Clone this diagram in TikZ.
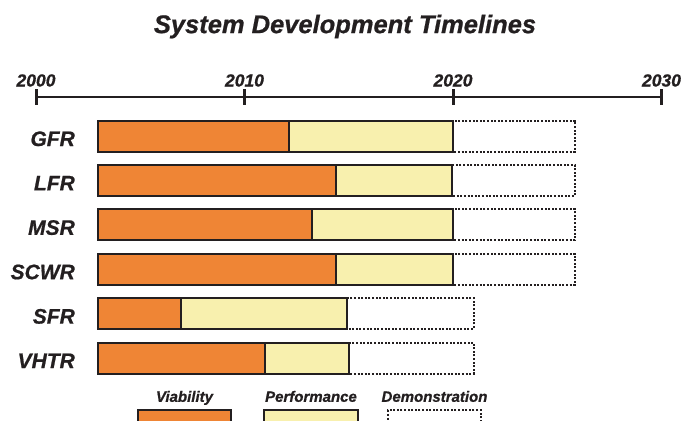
\documentclass[tikz,border=0pt]{standalone}
\usepackage{fontspec}
\setmainfont{Liberation Sans}[BoldItalicFeatures={FakeBold=0.8}]
\usepackage{xcolor}
\usetikzlibrary{positioning}
\definecolor{viab}{HTML}{EF8535}
\definecolor{perf}{HTML}{F8F0AE}
\definecolor{edge}{HTML}{231F20}

\begin{document}
\begin{tikzpicture}[
    x=1pt, y=-1pt, lbl/.style={text=edge, inner sep=0pt}, bar/.style={draw=edge, line width=2pt}, demo/.style={draw=edge, line width=2pt, dash pattern=on 2pt off 1.6pt}
]
\useasboundingbox (0,0) rectangle (684,420);
\clip (0,0) rectangle (684,420);
\node[lbl, font=\fontsize{25.5}{30}\selectfont\bfseries\itshape] (title) at (345,26.5) {System Development Timelines};
\coordinate (a0) at (36,97.3);\coordinate (a1) at (661.5,97.3);
\draw[edge, line width=2pt] (a0) -- (a1);
\foreach \t [count=\k from 0] in {2000,2010,2020,2030} {\draw[edge, line width=3pt] (36+208.5*\k,89) -- (36+208.5*\k,105);
\node[lbl, font=\fontsize{17.5}{20}\selectfont\bfseries\itshape, anchor=base] (y\t) at (36+208.5*\k,86.5) {\t};}
\foreach \n/\o/\p/\d [count=\i from 0] in {GFR/12.13/20/25.85, LFR/14.38/19.94/25.85, MSR/13.25/20/25.85, SCWR/14.38/20/25.85, SFR/6.95/14.93/20.99, VHTR/11/15.01/20.99} {
\pgfmathsetmacro\c{136+44.4*\i}
\node[lbl, font=\fontsize{21}{24}\selectfont\bfseries\itshape, anchor=base east] (\n) at (75,\c+10) {\n};
\draw[demo] ({36+20.85*\p},\c-15.5) rectangle ({36+20.85*\d},\c+15.5);
\draw[bar, fill=perf] ({36+20.85*\o},\c-15.5) rectangle ({36+20.85*\p},\c+15.5);
\draw[bar, fill=viab] ({36+20.85*2.95},\c-15.5) rectangle ({36+20.85*\o},\c+15.5);}
\node[bar, fill=viab, minimum width=93pt, minimum height=30pt, anchor=north] (kv) at (184.5,409.3) {};
\node[bar, fill=perf, minimum width=94pt, minimum height=30pt, anchor=north] (kp) at (311,409.3) {};
\node[demo, minimum width=93pt, minimum height=30pt, anchor=north] (kd) at (434.5,409.3) {};
\node[lbl, font=\fontsize{15}{18}\selectfont\bfseries\itshape, above=7.5pt of kv.north, anchor=base] (tv) {Viability};
\node[lbl, font=\fontsize{15}{18}\selectfont\bfseries\itshape, above=7.5pt of kp.north, anchor=base] (tp) {Performance};
\node[lbl, font=\fontsize{15}{18}\selectfont\bfseries\itshape, above=7.5pt of kd.north, anchor=base] (td) {Demonstration};
\end{tikzpicture}
\end{document}
